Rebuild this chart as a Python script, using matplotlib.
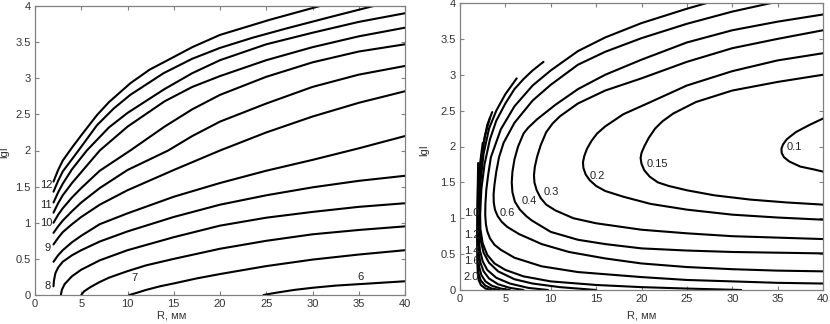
import matplotlib
matplotlib.use("Agg")
import matplotlib.pyplot as plt

plt.rcParams['font.family'] = ['Liberation Sans', 'DejaVu Sans']

# ---------------- Left panel: contour lines (R, mm ; lgI) ----------------
L12_x = [2, 2.5, 3, 4, 5, 6.7, 8, 10.3, 12.4, 13.9, 17, 20, 25.4, 30.8]
L12_y = [1.57, 1.73, 1.86, 2.04, 2.21, 2.49, 2.67, 2.93, 3.12, 3.22, 3.43, 3.60, 3.81, 4.0]
L11_5_x = [2, 2.5, 3, 4, 4.7, 6.7, 8.5, 10.3, 13.9, 17, 20, 23.5, 27.2, 32, 36.6]
L11_5_y = [1.43, 1.58, 1.71, 1.88, 2.0, 2.35, 2.58, 2.77, 3.07, 3.27, 3.42, 3.56, 3.69, 3.85, 4.0]
L11_x = [2, 2.5, 3, 4, 5.6, 8, 10, 14, 17, 20, 25, 30, 35, 40]
L11_y = [1.28, 1.42, 1.54, 1.74, 2.0, 2.32, 2.52, 2.85, 3.07, 3.25, 3.47, 3.63, 3.78, 3.90]
L10_5_x = [2, 2.5, 3, 4, 5, 7, 10, 14, 17, 20, 25, 30, 35, 40]
L10_5_y = [1.14, 1.27, 1.38, 1.55, 1.70, 2.0, 2.33, 2.68, 2.88, 3.03, 3.25, 3.43, 3.58, 3.70]
L10_x = [2, 2.5, 3, 4, 5, 7, 10.3, 14, 17, 20, 25, 30, 35, 40]
L10_y = [1.0, 1.11, 1.2, 1.35, 1.48, 1.72, 2.0, 2.33, 2.57, 2.77, 3.02, 3.22, 3.37, 3.47]
L9_5_x = [2, 2.5, 3, 4, 5, 7, 10, 14.4, 17, 20, 25, 30, 35, 40]
L9_5_y = [0.86, 0.95, 1.03, 1.16, 1.28, 1.48, 1.73, 2.0, 2.2, 2.40, 2.65, 2.88, 3.05, 3.17]
L9_x = [2, 2.5, 3, 4, 5, 7, 10, 15, 20, 25, 30, 35, 40]
L9_y = [0.70, 0.79, 0.87, 0.98, 1.08, 1.25, 1.45, 1.73, 2.0, 2.25, 2.47, 2.66, 2.82]
L8_5_x = [2, 2.5, 3, 4, 5, 7, 10, 15, 20, 25, 30, 35, 40]
L8_5_y = [0.46, 0.55, 0.62, 0.73, 0.82, 0.98, 1.13, 1.36, 1.55, 1.72, 1.87, 2.03, 2.20]
L8_x = [2, 2.05, 2.2, 2.5, 3, 4, 5, 7, 10, 15, 20, 25, 30, 35, 40]
L8_y = [0.12, 0.2, 0.3, 0.38, 0.46, 0.55, 0.62, 0.74, 0.88, 1.08, 1.25, 1.38, 1.49, 1.58, 1.65]
L7_5_x = [2.8, 2.9, 3.2, 4, 5, 7, 10, 15, 20, 25, 30, 35, 40]
L7_5_y = [0.0, 0.07, 0.15, 0.26, 0.35, 0.48, 0.62, 0.80, 0.96, 1.07, 1.15, 1.22, 1.27]
L7_x = [5.0, 5.3, 6, 7, 8, 10, 12, 15, 20, 25, 30, 35, 40]
L7_y = [0.0, 0.05, 0.11, 0.18, 0.24, 0.33, 0.41, 0.50, 0.64, 0.75, 0.84, 0.90, 0.95]
L6_5_x = [10.2, 11, 12, 13.5, 15, 17.5, 20, 25, 30, 35, 40]
L6_5_y = [0.0, 0.03, 0.07, 0.12, 0.16, 0.23, 0.29, 0.40, 0.49, 0.56, 0.62]
L6_x = [24.7, 26, 28, 30, 32.5, 35, 37.5, 40]
L6_y = [0.0, 0.03, 0.07, 0.10, 0.13, 0.15, 0.17, 0.19]

left_curves = [(L12_x, L12_y), (L11_5_x, L11_5_y), (L11_x, L11_y), (L10_5_x, L10_5_y),
               (L10_x, L10_y), (L9_5_x, L9_5_y), (L9_x, L9_y), (L8_5_x, L8_5_y),
               (L8_x, L8_y), (L7_5_x, L7_5_y), (L7_x, L7_y), (L6_5_x, L6_5_y), (L6_x, L6_y)]

left_label_text = ["12", "11", "10", "9", "8", "7", "6"]
left_label_x = [0.5, 0.5, 0.5, 1.05, 1.05, 10.4, 34.9]
left_label_y = [1.52, 1.25, 1.0, 0.65, 0.12, 0.23, 0.25]

# ---------------- Right panel: contour lines ----------------
R0_1_x = [40, 38.5, 37, 36, 35.6, 35.42, 35.45, 35.7, 36.3, 37.5, 39, 40]
R0_1_y = [2.39, 2.30, 2.20, 2.10, 2.03, 1.97, 1.91, 1.85, 1.79, 1.72, 1.68, 1.65]
R0_15_x = [40, 35, 30, 26, 23.5, 22.3, 21.5, 20.8, 20.3, 20.0, 19.9, 20.0, 20.3, 20.9, 21.8, 23, 25, 28, 32, 36, 40]
R0_15_y = [3.0, 2.90, 2.78, 2.62, 2.46, 2.35, 2.25, 2.12, 2.0, 1.91, 1.84, 1.76, 1.67, 1.58, 1.50, 1.45, 1.39, 1.32, 1.26, 1.22, 1.19]
R0_2_x = [40, 35, 30, 25, 21, 18, 16, 15.1, 14.5, 14.0, 13.7, 13.55, 13.6, 13.85, 14.3, 15, 16, 18, 21, 25, 30, 35, 40]
R0_2_y = [3.30, 3.20, 3.05, 2.85, 2.62, 2.45, 2.28, 2.18, 2.08, 1.97, 1.87, 1.78, 1.70, 1.61, 1.53, 1.45, 1.38, 1.30, 1.20, 1.12, 1.05, 1.01, 0.98]
R0_3_x = [40, 35, 30, 25, 20, 16, 13, 11, 10.2, 9.5, 8.9, 8.5, 8.25, 8.15, 8.2, 8.45, 8.9, 9.5, 10.5, 12.5, 15, 20, 25, 30, 35, 40]
R0_3_y = [3.62, 3.50, 3.37, 3.18, 2.95, 2.78, 2.60, 2.42, 2.32, 2.20, 2.02, 1.86, 1.72, 1.60, 1.50, 1.39, 1.28, 1.19, 1.11, 1.0, 0.93, 0.84, 0.79, 0.75, 0.73, 0.71]
R0_4_x = [40, 35, 30, 25, 20, 16, 13, 10.5, 8.5, 7.5, 7.0, 6.4, 6.0, 5.78, 5.7, 5.78, 6.05, 6.6, 7.3, 7.9, 10, 13, 16, 20, 25, 30, 35, 40]
R0_4_y = [3.84, 3.74, 3.62, 3.45, 3.21, 3.0, 2.80, 2.58, 2.38, 2.26, 2.18, 2.0, 1.82, 1.65, 1.50, 1.36, 1.23, 1.12, 1.03, 0.97, 0.81, 0.70, 0.64, 0.58, 0.55, 0.53, 0.52, 0.51]
R0_6_x = [34.3, 30, 25, 20, 16, 13, 10, 8, 6, 4.8, 4.3, 4.0, 3.8, 3.7, 3.72, 3.85, 4.15, 4.6, 5.2, 6.5, 9, 12, 16, 20, 25, 30, 35, 40]
R0_6_y = [4.0, 3.88, 3.71, 3.51, 3.32, 3.14, 2.86, 2.64, 2.33, 2.05, 1.85, 1.65, 1.47, 1.33, 1.22, 1.12, 1.03, 0.95, 0.88, 0.78, 0.64, 0.53, 0.44, 0.37, 0.32, 0.29, 0.27, 0.26]
R0_8_x = [27.2, 25, 20, 16, 13, 10, 8, 6, 4.5, 3.4, 3.1, 2.9, 2.8, 2.78, 2.85, 3.0, 3.3, 3.8, 4.5, 6, 9, 13, 20, 25, 30, 35, 40]
R0_8_y = [4.0, 3.92, 3.72, 3.52, 3.33, 3.06, 2.85, 2.56, 2.24, 1.85, 1.6, 1.4, 1.2, 1.05, 0.92, 0.82, 0.72, 0.63, 0.56, 0.45, 0.33, 0.25, 0.18, 0.14, 0.12, 0.10, 0.09]
R1_0_x = [9.2, 8, 7, 6, 5, 4, 3.3, 2.7, 2.35, 2.22, 2.25, 2.5, 3.0, 3.8, 5, 7, 10, 15, 20, 25, 31]
R1_0_y = [3.18, 3.06, 2.94, 2.8, 2.6, 2.36, 2.1, 1.75, 1.4, 1.05, 0.85, 0.65, 0.49, 0.37, 0.28, 0.19, 0.12, 0.07, 0.04, 0.02, 0.0]
R1_2_x = [6.25, 5, 4, 3.2, 2.6, 2.25, 2.12, 2.15, 2.3, 2.6, 3.2, 4.2, 6, 8, 11, 15]
R1_2_y = [2.95, 2.73, 2.5, 2.25, 1.9, 1.5, 1.1, 0.85, 0.68, 0.52, 0.38, 0.26, 0.15, 0.09, 0.04, 0.0]
R1_4_x = [3.55, 3.0, 2.6, 2.3, 2.1, 2.05, 2.08, 2.2, 2.5, 3.0, 4.0, 5.5, 7.5, 9.7]
R1_4_y = [2.48, 2.3, 2.05, 1.7, 1.3, 0.95, 0.7, 0.55, 0.4, 0.28, 0.17, 0.09, 0.03, 0.0]
R1_6_x = [3.3, 2.75, 2.35, 2.1, 2.0, 2.0, 2.08, 2.25, 2.6, 3.2, 4.2, 5.5, 7.0]
R1_6_y = [2.40, 2.15, 1.85, 1.45, 1.05, 0.7, 0.5, 0.38, 0.26, 0.16, 0.08, 0.03, 0.0]
R1_8_x = [2.5, 2.2, 2.02, 1.97, 1.97, 2.0, 2.1, 2.35, 2.8, 3.5, 4.5, 5.5]
R1_8_y = [2.05, 1.75, 1.4, 1.0, 0.7, 0.48, 0.33, 0.21, 0.12, 0.06, 0.02, 0.0]
R2_0_x = [2.0, 1.95, 1.93, 1.93, 1.97, 2.07, 2.3, 2.8, 3.5, 4.4]
R2_0_y = [1.77, 1.4, 1.0, 0.6, 0.35, 0.22, 0.13, 0.06, 0.02, 0.0]
R2_2_x = [2.0, 1.93, 1.9, 1.9, 1.95, 2.05, 2.3, 2.8, 3.5]
R2_2_y = [1.51, 1.2, 0.8, 0.45, 0.25, 0.14, 0.07, 0.02, 0.0]

right_curves = [(R0_1_x, R0_1_y), (R0_15_x, R0_15_y), (R0_2_x, R0_2_y), (R0_3_x, R0_3_y),
                (R0_4_x, R0_4_y), (R0_6_x, R0_6_y), (R0_8_x, R0_8_y), (R1_0_x, R1_0_y),
                (R1_2_x, R1_2_y), (R1_4_x, R1_4_y), (R1_6_x, R1_6_y), (R1_8_x, R1_8_y),
                (R2_0_x, R2_0_y), (R2_2_x, R2_2_y)]

right_label_text = ["0.1", "0.15", "0.2", "0.3", "0.4", "0.6", "1.0", "1.2", "1.4", "1.6", "2.0"]
right_label_x = [36.0, 20.6, 14.3, 9.2, 6.8, 4.4, 0.4, 0.4, 0.4, 0.4, 0.4]
right_label_y = [2.0, 1.76, 1.59, 1.36, 1.24, 1.08, 1.08, 0.77, 0.55, 0.40, 0.18]

x_ticks = [0, 5, 10, 15, 20, 25, 30, 35, 40]
y_ticks = [0, 0.5, 1, 1.5, 2, 2.5, 3, 3.5, 4]
y_tick_labels = ["0", "0.5", "1", "1.5", "2", "2.5", "3", "3.5", "4"]

# ---------------- Figure ----------------
W, H = 830, 324
fig = plt.figure(figsize=(W / 100, H / 100), dpi=100)

ax1 = fig.add_axes([35 / W, (H - 295) / H, 370 / W, 289 / H])
ax2 = fig.add_axes([460 / W, (H - 290) / H, 363 / W, 287 / H])

spine_col = '#808080'
txt_col = '#333333'
fs = 8

for ax in (ax1, ax2):
    ax.set_xlim(0, 40)
    ax.set_ylim(0, 4)
    ax.set_xticks(x_ticks)
    ax.set_xticklabels([str(t) for t in x_ticks])
    ax.set_yticks(y_ticks)
    ax.set_yticklabels(y_tick_labels)
    ax.tick_params(direction='in', top=True, right=True, length=3, width=0.8,
                   colors=spine_col, labelcolor=txt_col, labelsize=fs, pad=3)
    for s in ax.spines.values():
        s.set_color(spine_col)
        s.set_linewidth(0.9)

for cx, cy in left_curves:
    ax1.plot(cx, cy, color='black', lw=1.5, solid_capstyle='round',
             solid_joinstyle='round', clip_on=True)
for cx, cy in right_curves:
    ax2.plot(cx, cy, color='black', lw=1.5, solid_capstyle='round',
             solid_joinstyle='round', clip_on=True)

for t, x, y in zip(left_label_text, left_label_x, left_label_y):
    ax1.text(x, y, t, fontsize=fs, color='#222222', ha='left', va='center')
for t, x, y in zip(right_label_text, right_label_x, right_label_y):
    ax2.text(x, y, t, fontsize=fs, color='#222222', ha='left', va='center')

ax1.set_xlabel('R, мм', fontsize=fs, color=txt_col)
ax1.xaxis.set_label_coords((172 - 35) / 370, -(311 - 295) / 289)
ax1.set_ylabel('lgI', fontsize=fs, color=txt_col)
ax1.yaxis.set_label_coords(-(35 - 9) / 370, (295 - 152) / 289)

ax2.set_xlabel('R, мм', fontsize=fs, color=txt_col)
ax2.xaxis.set_label_coords(0.5, -(310 - 290) / 287)
ax2.set_ylabel('lgI', fontsize=fs, color=txt_col)
ax2.yaxis.set_label_coords(-(460 - 429) / 363, (290 - 150) / 287)

fig.savefig('out.png', dpi=100)
